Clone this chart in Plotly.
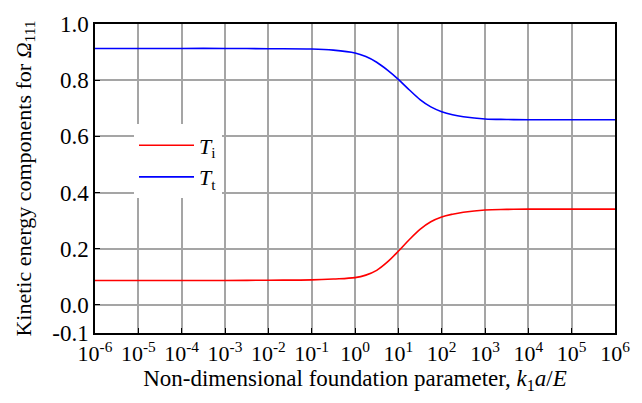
import plotly.graph_objects as go

# log10 of the non-dimensional foundation parameter k1*a/E
log_x = [-6, -5, -4, -3, -2, -1, -0.5, 0, 0.25, 0.5, 0.75, 1, 1.25, 1.5, 1.75, 2, 2.25, 2.5, 3, 3.5, 4, 5, 6]
T_t = [0.913, 0.913, 0.913, 0.913, 0.912, 0.911, 0.907, 0.897, 0.884, 0.864, 0.836, 0.803, 0.766,
       0.731, 0.705, 0.688, 0.677, 0.670, 0.662, 0.660, 0.659, 0.659, 0.659]
T_i = [0.087, 0.087, 0.087, 0.087, 0.088, 0.089, 0.092, 0.097, 0.106, 0.123, 0.153, 0.191, 0.232,
       0.269, 0.296, 0.313, 0.323, 0.330, 0.338, 0.340, 0.341, 0.341, 0.341]
x_vals = [10 ** v for v in log_x]

x_tick_exp = [-6, -5, -4, -3, -2, -1, 0, 1, 2, 3, 4, 5, 6]
y_ticks = [-0.1, 0.0, 0.2, 0.4, 0.6, 0.8, 1.0]
y_tick_text = ["-0.1", "0.0", "0.2", "0.4", "0.6", "0.8", "1.0"]

FONT = "Liberation Serif"

fig = go.Figure()
fig.add_trace(go.Scatter(x=x_vals, y=T_i, mode="lines", line=dict(color="#ff0000", width=1.6, shape="spline"),
                         name="<i>T</i><sub>i</sub>", legendgroup="a"))
fig.add_trace(go.Scatter(x=x_vals, y=T_t, mode="lines", line=dict(color="#0000ff", width=1.6, shape="spline"),
                         name="<i>T</i><sub>t</sub>", legendgroup="b"))

fig.update_layout(
    width=642, height=403,
    margin=dict(l=95, r=27, t=18, b=70),
    paper_bgcolor="white", plot_bgcolor="white",
    font=dict(family=FONT, size=22, color="black"),
    showlegend=True,
    legend=dict(x=0.075, y=0.675, xanchor="left", yanchor="top", bgcolor="white",
                font=dict(family=FONT, size=22), tracegroupgap=0, itemwidth=55),
    xaxis=dict(type="log", range=[-6, 6],
               tickvals=[10 ** e for e in x_tick_exp],
               ticktext=["10<sup>%d</sup>" % e for e in x_tick_exp],
               ticks="inside", ticklen=5, tickcolor="black",
               showline=True, linecolor="black", linewidth=1.5, mirror=True,
               showgrid=True, gridcolor="rgb(165,165,165)", gridwidth=1.5, zeroline=False,
               title=dict(text="Non-dimensional foundation parameter, <i>k</i><sub>1</sub><i>a</i>/<i>E</i>",
                          font=dict(family=FONT, size=23), standoff=2),
               tickfont=dict(family=FONT, size=22)),
    yaxis=dict(range=[-0.1, 1.0], tickvals=y_ticks, ticktext=y_tick_text,
               ticks="inside", ticklen=5, tickcolor="black",
               showline=True, linecolor="black", linewidth=1.5, mirror=True,
               showgrid=True, gridcolor="rgb(165,165,165)", gridwidth=1.5, zeroline=False,
               title=dict(text="Kinetic energy components for <i>Ω</i><sub>111</sub>",
                          font=dict(family=FONT, size=22), standoff=15),
               tickfont=dict(family=FONT, size=23)),
)

fig.write_html("out.html")
